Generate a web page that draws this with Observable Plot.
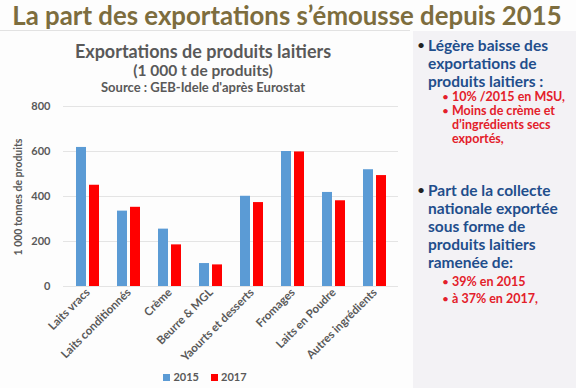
<!DOCTYPE html>
<html><head><meta charset="utf-8">
<script src="https://cdn.jsdelivr.net/npm/d3@7"></script>
<script src="https://cdn.jsdelivr.net/npm/@observablehq/plot@0.6"></script>
<style>
html,body{margin:0;padding:0;}
body{width:576px;height:388px;position:relative;overflow:hidden;background:#fdfdfd;font-family:Lato,"Open Sans",sans-serif;}
#title{position:absolute;left:0;top:0px;width:574px;text-align:center;font-weight:bold;font-size:25.8px;color:#7d6d3e;white-space:nowrap;}
#sep{position:absolute;left:0;top:30px;width:410px;height:1px;background:#e2e2e2;}
#panel{position:absolute;left:413px;top:31px;width:163px;height:357px;background:#f3f2f5;}
.ct{position:absolute;left:0;width:406px;text-align:center;font-weight:bold;color:#595959;white-space:nowrap;}
#chart{position:absolute;left:0;top:96px;}
#ylab{position:absolute;left:18px;top:197px;transform:translate(-50%,-50%) rotate(-90deg);font-size:10.5px;font-weight:bold;color:#595959;white-space:nowrap;}
#legend{position:absolute;left:0;top:370px;width:410px;text-align:center;font-size:11px;color:#595959;font-weight:bold;}
#legend span.sw{display:inline-block;width:7px;height:7px;margin-right:3px;}
#legend span.it{margin:0 6px;}
.b{position:absolute;white-space:nowrap;font-weight:bold;}
.b1{color:#1f4e8c;font-size:15.5px;line-height:18px;left:428px;}
.b2{color:#e3202a;font-size:12.5px;line-height:14px;left:452px;}
.dot1{position:absolute;left:417px;font-size:14px;line-height:18px;color:#222;}
.dot2{position:absolute;left:442px;font-size:12px;line-height:14px;color:#e3202a;}
</style></head>
<body>
<div id="title">La part des exportations s’émousse depuis 2015</div>
<div id="sep"></div>
<div id="panel"></div>
<div class="ct" style="top:40px;font-size:18px;">Exportations de produits laitiers</div>
<div class="ct" style="top:61px;font-size:15.5px;">(1 000 t de produits)</div>
<div class="ct" style="top:79px;font-size:13px;">Source : GEB-Idele d'après Eurostat</div>
<div id="ylab">1 000 tonnes de produits</div>
<div id="chart"></div>
<div id="legend"></div>
<div id="notes"></div>
<script>
const categories = ["Laits vracs","Laits conditionnés","Crème","Beurre & MGL","Yaourts et desserts","Fromages","Laits en Poudre","Autres ingrédients"];
const values2015 = [618, 335, 255, 102, 401, 600, 418, 519];
const values2017 = [450, 352, 185, 96, 373, 598, 381, 493];
const years = ["2015","2017"];
const colors = ["#5b9bd5","#ff0000"];
const yTicks = [0, 200, 400, 600, 800];

const data = categories.flatMap((c,i)=>[
  {cat:c, year:years[0], value:values2015[i]},
  {cat:c, year:years[1], value:values2017[i]}
]);

const chart = Plot.plot({
  width: 410, height: 270,
  marginLeft: 63, marginRight: 12, marginTop: 10, marginBottom: 80,
  style: {fontFamily: "Lato, sans-serif", fontSize: "11px", color: "#595959", background: "transparent"},
  x: {domain: categories, paddingInner: 0.45, paddingOuter: 0.225, label: null},
  y: {domain: [0, 800], label: null},
  marks: [
    Plot.ruleY(yTicks, {stroke: "#e4e4e4", strokeWidth: 1}),
    Plot.barY(data.filter(d=>d.year===years[0]), {x:"cat", y:"value", fill: colors[0], insetRight: 13}),
    Plot.barY(data.filter(d=>d.year===years[1]), {x:"cat", y:"value", fill: colors[1], insetLeft: 13}),
    Plot.axisY({ticks: yTicks, tickSize: 0, tickPadding: 13, label: null, fontWeight: "bold"}),
    Plot.axisX({tickSize: 0, tickRotate: -45, tickPadding: 4, label: null, fontWeight: "bold", fontSize: 11.5})
  ]
});
document.getElementById("chart").appendChild(chart);

const leg = document.getElementById("legend");
years.forEach((y,i)=>{
  const s = document.createElement("span"); s.className="it";
  s.innerHTML = `<span class="sw" style="background:${colors[i]}"></span>${y}`;
  leg.appendChild(s);
});

const notes = [
  {lvl:1, y:36, t:"Légère baisse des", bullet:true},
  {lvl:1, y:54, t:"exportations de"},
  {lvl:1, y:72, t:"produits laitiers :"},
  {lvl:2, y:90, t:"10% /2015 en MSU,", bullet:true},
  {lvl:2, y:104, t:"Moins de crème et", bullet:true},
  {lvl:2, y:118, t:"d’ingrédients secs"},
  {lvl:2, y:132, t:"exportés,"},
  {lvl:1, y:181, t:"Part de la collecte", bullet:true},
  {lvl:1, y:199, t:"nationale exportée"},
  {lvl:1, y:217, t:"sous forme de"},
  {lvl:1, y:235, t:"produits laitiers"},
  {lvl:1, y:253, t:"ramenée de:"},
  {lvl:2, y:275, t:"39% en 2015", bullet:true},
  {lvl:2, y:292, t:"à 37% en 2017,", bullet:true}
];
const nd = document.getElementById("notes");
notes.forEach(n=>{
  const d = document.createElement("div");
  d.className = "b b"+n.lvl; d.style.top = n.y+"px"; d.textContent = n.t;
  nd.appendChild(d);
  if(n.bullet){
    const b = document.createElement("div");
    b.className = "dot"+n.lvl; b.style.top = (n.y)+"px"; b.textContent="•";
    nd.appendChild(b);
  }
});
</script>
</body></html>
